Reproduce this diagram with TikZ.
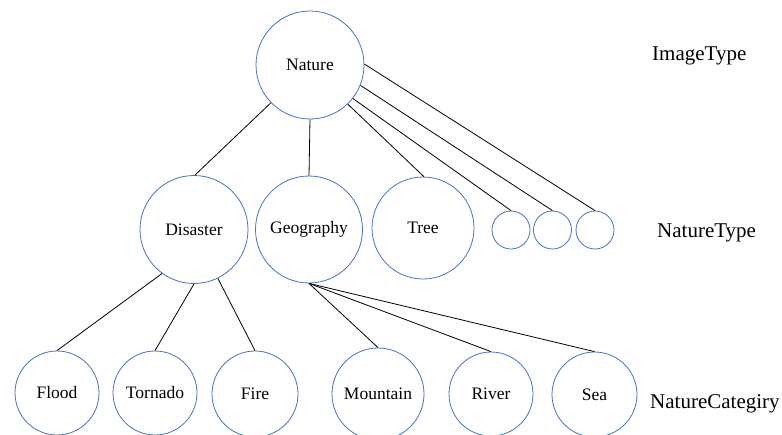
\documentclass[tikz,border=0pt]{standalone}
\usepackage{fontspec}
\setmainfont{Liberation Serif}
\definecolor{ringblue}{HTML}{4472C4}
\begin{document}
\begin{tikzpicture}[x=1pt,y=-1pt,
  ring/.style={circle,draw=ringblue,line width=0.8pt,inner sep=0pt,
    font=\fontsize{17.5}{20}\selectfont,minimum size=#1},
  ring/.default=108pt,
  link/.style={draw=black,line width=0.8pt},
  levellabel/.style={anchor=base west,inner sep=0pt,font=\fontsize{21}{24}\selectfont}]
  \useasboundingbox (0,0) rectangle (782,434);
  \clip (0,0) rectangle (782,434);

  % top level
  \node[ring=108pt] (nature) at (310,65) {Nature};

  % second level
  \node[ring=108pt] (disaster) at (194,229.5) {Disaster};
  \node[ring=107pt] (geography) at (309,229.5) {Geography};
  \node[ring=102pt] (tree) at (423,228) {Tree};
  \node[ring=38pt] (s1) at (511,230) {};
  \node[ring=38pt] (s2) at (552.5,230) {};
  \node[ring=38pt] (s3) at (595,230) {};

  % third level
  \node[ring=84pt] (flood) at (57,393) {Flood};
  \node[ring=84pt] (tornado) at (155,393) {Tornado};
  \node[ring=86pt] (fire) at (255,394) {Fire};
  \node[ring=92pt] (mountain) at (378,394) {Mountain};
  \node[ring=84pt] (river) at (491,394) {River};
  \node[ring=85pt] (sea) at (594.5,394.5) {Sea};

  % connectors
  \draw[link] (nature.224) -- (disaster.89);
  \draw[link] (nature.270) -- (geography.90);
  \draw[link] (nature.314) -- (tree.89);
  \draw[link] (nature.322) -- (s1.90);
  \draw[link] (nature.338) -- (s2.90);
  \draw[link] (nature.1) -- (s3.90);

  \draw[link] (disaster.234) -- (flood.90);
  \draw[link] (disaster.270) -- (tornado.90);
  \draw[link] (disaster.296) -- (fire.90);

  \draw[link] (geography.270) -- (mountain.90);
  \draw[link] (geography.270) -- (river.90);
  \draw[link] (geography.270) -- (sea.90);

  % level names
  \node[levellabel] (l1) at (652,60) {ImageType};
  \node[levellabel] (l2) at (657,237) {NatureType};
  \node[levellabel] (l3) at (650,408) {NatureCategiry};
\end{tikzpicture}
\end{document}
